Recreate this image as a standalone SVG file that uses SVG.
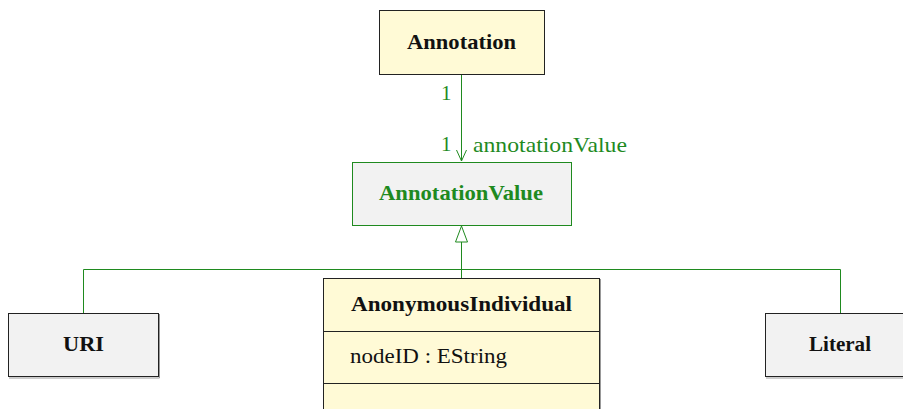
<svg xmlns="http://www.w3.org/2000/svg" width="903" height="409" viewBox="0 0 903 409">
<style>
.t{font-family:"Liberation Serif","Times New Roman",serif;font-size:21px}
.b{font-weight:bold}
.g{fill:#1f8a1f}
.k{fill:#111}
.yel{fill:#fffad6;stroke:#222;stroke-width:1}
.gry{fill:#f2f2f2;stroke:#222;stroke-width:1}
.gv{fill:#f2f2f2;stroke:#1f8a1f;stroke-width:1}
.sh{fill:none;stroke:#999;stroke-width:1}
.c{fill:none;stroke:#1f8a1f;stroke-width:1}
</style>
<rect width="903" height="409" fill="#fff"/>
<g id="connectors">
<line class="c" x1="461.5" y1="74" x2="461.5" y2="161"/>
<polyline class="c" points="456.5,150 461.5,161 466.5,150"/>
<polyline class="c" points="83.5,313 83.5,269.5 840.5,269.5 840.5,313"/>
<line class="c" x1="461.5" y1="242" x2="461.5" y2="278"/>
<polygon points="461.5,226 455.5,242 467.5,242" fill="#fff" stroke="#1f8a1f" stroke-width="1"/>
<text class="t g" x="441" y="100">1</text>
<text class="t g" x="441" y="151">1</text>
<text class="t g" x="473" y="152" textLength="154" lengthAdjust="spacingAndGlyphs">annotationValue</text>
</g>
<g id="Annotation">
<rect class="yel" x="379.5" y="10.5" width="165" height="64"/>
<text class="t b k" x="407" y="49" textLength="109" lengthAdjust="spacingAndGlyphs">Annotation</text>
</g>
<g id="AnnotationValue">
<rect class="gv" x="352.5" y="162.5" width="219" height="63"/>
<text class="t b g" x="379" y="200" textLength="164" lengthAdjust="spacingAndGlyphs">AnnotationValue</text>
</g>
<g id="URI">
<polyline class="sh" points="159.5,314 159.5,378 9,378"/>
<rect class="gry" x="8.5" y="313.5" width="150" height="63"/>
<text class="t b k" x="63" y="351" textLength="41" lengthAdjust="spacingAndGlyphs">URI</text>
</g>
<g id="Literal">
<line class="sh" x1="766" y1="378" x2="903" y2="378"/>
<rect class="gry" x="765.5" y="313.5" width="150" height="63"/>
<text class="t b k" x="809" y="351" textLength="62" lengthAdjust="spacingAndGlyphs">Literal</text>
</g>
<g id="AnonymousIndividual">
<line class="sh" x1="600.5" y1="279" x2="600.5" y2="409"/>
<rect class="yel" x="323.5" y="278.5" width="276" height="140"/>
<line x1="323.5" y1="331.5" x2="599.5" y2="331.5" stroke="#222" stroke-width="1"/>
<line x1="323.5" y1="383.5" x2="599.5" y2="383.5" stroke="#222" stroke-width="1"/>
<text class="t b k" x="351" y="311" textLength="221" lengthAdjust="spacingAndGlyphs">AnonymousIndividual</text>
<text class="t k" x="350" y="363" textLength="157" lengthAdjust="spacingAndGlyphs">nodeID : EString</text>
</g>
</svg>
